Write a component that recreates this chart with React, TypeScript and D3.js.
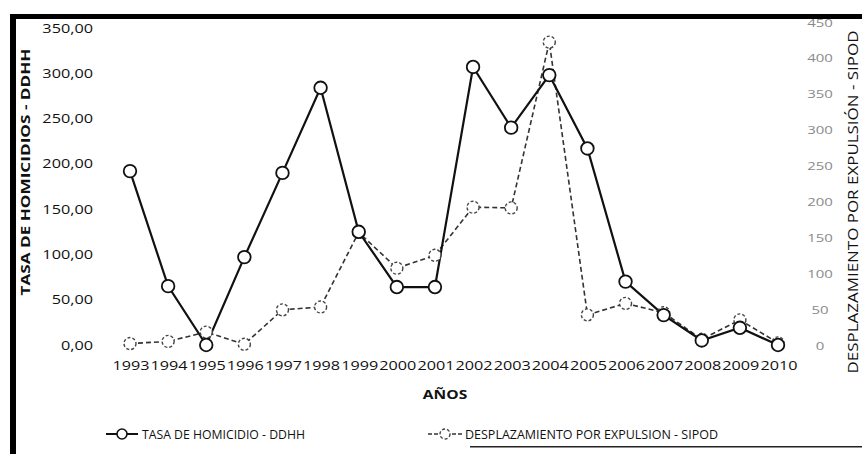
import React from "react";
import * as d3 from "d3";

const years = [1993,1994,1995,1996,1997,1998,1999,2000,2001,2002,2003,2004,2005,2006,2007,2008,2009,2010];
const homicidio = [192,65,0,97,190,284,125,64,64,307,240,298,217,70,33,5,19,0];
const desplazamiento = [2,5,18,1,49,53,157,107,125,192,191,422,42,58,45,8,35,3];
const leftTicks = [0,50,100,150,200,250,300,350];
const rightTicks = [0,50,100,150,200,250,300,350,400,450];

const W = 862, H = 454;
const FONT = "'Open Sans', 'Liberation Sans', sans-serif";
const SX = 1.3;

function SText({ x, y, anchor = "start", size = 12.5, weight = 400, fill = "#111", sx = SX, children }: any) {
  return (
    <text transform={`translate(${x},${y}) scale(${sx},1)`} textAnchor={anchor}
      fontFamily={FONT} fontSize={size} fontWeight={weight} fill={fill}>{children}</text>
  );
}

export default function App() {
  const x = d3.scalePoint<number>().domain(years).range([130, 778]);
  const yL = d3.scaleLinear().domain([0, 350]).range([345, 28]);
  const yR = d3.scaleLinear().domain([0, 450]).range([345, 22]);
  const fmt = (v: number) => d3.format(".2f")(v).replace(".", ",");

  const lineL = d3.line<number>().x((_, i) => x(years[i])!).y(d => yL(d));
  const lineR = d3.line<number>().x((_, i) => x(years[i])!).y(d => yR(d));

  return (
    <svg width={W} height={H} style={{ position: "absolute", left: 0, top: 0, background: "#fff" }}>
      {/* scan frame */}
      <rect x={10} y={14} width={W - 10} height={5} fill="#000" />
      <rect x={10} y={14} width={6} height={H - 14} fill="#000" />
      <rect x={470} y={446} width={W - 470} height={1.5} fill="#222" />

      {/* left axis labels */}
      {leftTicks.map(t => (
        <SText key={"l" + t} x={93} y={yL(t) + 4.5} anchor="end">{fmt(t)}</SText>
      ))}
      {/* right axis labels */}
      {rightTicks.map(t => (
        <SText key={"r" + t} x={820} y={yR(t) + 4.5} anchor="middle" fill="#8a8a8a" size={11.5}>{String(t)}</SText>
      ))}
      {/* year labels */}
      {years.map(yv => (
        <text key={"y" + yv} x={x(yv)! + 1} y={370} textAnchor="middle" fontFamily={FONT}
          fontSize={12.5} fill="#111" textLength={37} lengthAdjust="spacingAndGlyphs">{String(yv)}</text>
      ))}

      {/* axis titles */}
      <text transform="translate(30,172) rotate(-90)" textAnchor="middle" fontFamily={FONT}
        fontSize={13} fontWeight={700} fill="#111" textLength={247} lengthAdjust="spacingAndGlyphs">
        TASA DE HOMICIDIOS - DDHH</text>
      <text transform="translate(858,202) rotate(-90)" textAnchor="middle" fontFamily={FONT}
        fontSize={14.5} fontWeight={400} fill="#111" textLength={343} lengthAdjust="spacingAndGlyphs">
        DESPLAZAMIENTO POR EXPULSIÓN - SIPOD</text>
      <SText x={445} y={399} anchor="middle" weight={700} size={12}>AÑOS</SText>

      {/* series lines */}
      <path d={lineR(desplazamiento)!} fill="none" stroke="#333" strokeWidth={1.6} strokeDasharray="5,3" />
      <path d={lineL(homicidio)!} fill="none" stroke="#111" strokeWidth={2.2} />
      {desplazamiento.map((d, i) => (
        <circle key={"dc" + i} cx={x(years[i])!} cy={yR(d)} r={6} fill="#fff" stroke="#444"
          strokeWidth={1.4} strokeDasharray="3,2" />
      ))}
      {homicidio.map((d, i) => (
        <circle key={"hc" + i} cx={x(years[i])!} cy={yL(d)} r={6.3} fill="#fff" stroke="#111" strokeWidth={1.8} />
      ))}

      {/* legend */}
      <line x1={106} x2={138} y1={434} y2={434} stroke="#111" strokeWidth={2} />
      <circle cx={122} cy={434} r={5} fill="#fff" stroke="#111" strokeWidth={1.6} />
      <text x={142} y={439} fontFamily={FONT} fontSize={12.5} fill="#111" textLength={163}
        lengthAdjust="spacingAndGlyphs">TASA DE HOMICIDIO - DDHH</text>
      <line x1={428} x2={462} y1={434} y2={434} stroke="#333" strokeWidth={1.6} strokeDasharray="4,2" />
      <circle cx={445} cy={434} r={5} fill="#fff" stroke="#444" strokeWidth={1.4} strokeDasharray="3,2" />
      <text x={465} y={439} fontFamily={FONT} fontSize={12.5} fill="#111" textLength={253}
        lengthAdjust="spacingAndGlyphs">DESPLAZAMIENTO POR EXPULSION - SIPOD</text>
    </svg>
  );
}
